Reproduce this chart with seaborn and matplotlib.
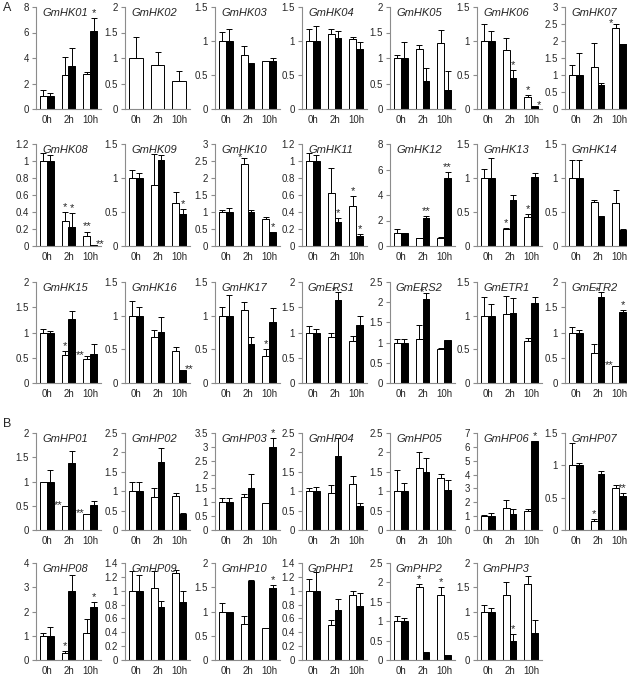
import matplotlib
matplotlib.use("Agg")
import matplotlib.pyplot as plt
import seaborn as sns
import numpy as np
import pandas as pd

# --- data (white = control, black = treatment) ---
TIMES = ["0h", "2h", "10h"]

GENES = [
    "GmHK01", "GmHK02", "GmHK03", "GmHK04", "GmHK05", "GmHK06", "GmHK07",
    "GmHK08", "GmHK09", "GmHK10", "GmHK11", "GmHK12", "GmHK13", "GmHK14",
    "GmHK15", "GmHK16", "GmHK17", "GmERS1", "GmERS2", "GmETR1", "GmETR2",
    "GmHP01", "GmHP02", "GmHP03", "GmHP04", "GmHP05", "GmHP06", "GmHP07",
    "GmHP08", "GmHP09", "GmHP10", "GmPHP1", "GmPHP2", "GmPHP3",
]

WHITE = [
    [1.0, 2.65, 2.75], [1.0, 0.87, 0.55], [1.0, 0.80, 0.70], [1.0, 1.10, 1.03],
    [1.0, 1.18, 1.30], [1.0, 0.87, 0.17], [1.0, 1.25, 2.38],
    [1.0, 0.30, 0.12], [1.0, 0.90, 0.63], [1.0, 2.40, 0.78], [1.0, 0.62, 0.47],
    [1.0, 0.60, 0.60], [1.0, 0.25, 0.42], [1.0, 0.65, 0.63],
    [1.0, 0.56, 0.47], [1.0, 0.68, 0.48], [1.0, 1.08, 0.40], [1.0, 0.92, 0.83],
    [1.0, 1.08, 0.85], [1.0, 1.02, 0.62], [1.0, 0.60, 0.33],
    [1.0, 0.50, 0.33], [1.0, 0.85, 0.88], [1.0, 1.20, 0.98], [1.0, 0.95, 1.18],
    [1.0, 1.60, 1.33], [1.0, 1.60, 1.35], [1.0, 0.14, 0.65],
    [1.0, 0.27, 1.10], [1.0, 1.04, 1.25], [1.0, 0.75, 0.65], [1.0, 0.50, 0.94],
    [1.0, 1.88, 1.68], [1.0, 1.35, 1.57],
]
WHITE_ERR = [
    [0.50, 1.45, 0.15], [0.42, 0.25, 0.20], [0.13, 0.12, 0.0], [0.17, 0.07, 0.03],
    [0.05, 0.08, 0.25], [0.25, 0.17, 0.04], [0.30, 0.70, 0.13],
    [0.10, 0.10, 0.05], [0.12, 0.45, 0.16], [0.05, 0.20, 0.08], [0.10, 0.30, 0.12],
    [0.30, 0.05, 0.12], [0.13, 0.02, 0.05], [0.27, 0.03, 0.20],
    [0.06, 0.08, 0.06], [0.22, 0.10, 0.06], [0.13, 0.12, 0.10], [0.13, 0.08, 0.10],
    [0.08, 0.35, 0.02], [0.27, 0.27, 0.05], [0.10, 0.18, 0.01],
    [0.0, 0.0, 0.0], [0.25, 0.22, 0.08], [0.15, 0.10, 0.0], [0.07, 0.20, 0.20],
    [0.55, 0.40, 0.12], [0.10, 0.60, 0.20], [0.35, 0.03, 0.04],
    [0.12, 0.10, 0.60], [0.28, 0.25, 0.05], [0.17, 0.15, 0.0], [0.17, 0.08, 0.06],
    [0.13, 0.08, 0.20], [0.13, 0.25, 0.17],
]
BLACK = [
    [1.0, 3.40, 6.10], [np.nan, np.nan, np.nan], [1.0, 0.68, 0.70], [1.0, 1.05, 0.88],
    [1.0, 0.55, 0.38], [1.0, 0.45, 0.05], [1.0, 0.70, 1.90],
    [1.0, 0.22, 0.01], [1.0, 1.27, 0.47], [1.0, 1.00, 0.42], [1.0, 0.28, 0.12],
    [1.0, 2.20, 5.30], [1.0, 0.68, 1.02], [1.0, 0.44, 0.24],
    [1.0, 1.27, 0.57], [1.0, 0.76, 0.20], [1.0, 0.58, 0.90], [1.0, 1.65, 1.15],
    [1.0, 2.07, 1.07], [1.0, 1.04, 1.19], [1.0, 1.70, 1.40],
    [1.0, 1.38, 0.52], [1.0, 1.75, 0.40], [1.0, 1.52, 3.00], [1.0, 1.90, 0.62],
    [1.0, 1.50, 1.02], [1.0, 1.15, 6.40], [1.0, 0.86, 0.53],
    [1.0, 2.85, 2.20], [1.0, 0.77, 0.84], [1.0, 1.62, 1.49], [1.0, 0.72, 0.78],
    [1.0, 0.20, 0.14], [1.0, 0.40, 0.55],
]
BLACK_ERR = [
    [0.25, 1.40, 1.00], [0.0, 0.0, 0.0], [0.18, 0.0, 0.05], [0.22, 0.10, 0.10],
    [0.32, 0.25, 0.37], [0.15, 0.12, 0.0], [0.65, 0.07, 0.02],
    [0.07, 0.17, 0.0], [0.07, 0.07, 0.07], [0.12, 0.07, 0.0], [0.07, 0.05, 0.02],
    [0.05, 0.15, 0.50], [0.30, 0.07, 0.05], [0.27, 0.0, 0.01],
    [0.02, 0.15, 0.20], [0.13, 0.22, 0.0], [0.30, 0.10, 0.22], [0.07, 0.15, 0.18],
    [0.08, 0.15, 0.0], [0.17, 0.22, 0.09], [0.05, 0.10, 0.05],
    [0.23, 0.25, 0.07], [0.25, 0.37, 0.03], [0.15, 0.50, 0.33], [0.10, 0.48, 0.08],
    [0.20, 0.35, 0.28], [0.25, 0.35, 0.0], [0.03, 0.06, 0.04],
    [0.35, 0.67, 0.18], [0.23, 0.08, 0.15], [0.0, 0.02, 0.06], [0.27, 0.16, 0.18],
    [0.07, 0.0, 0.0], [0.08, 0.14, 0.28],
]
YMAX = [8, 2, 1.5, 1.5, 2, 1.5, 3,
        1.2, 1.5, 3, 1.2, 8, 1.5, 1.5,
        2, 1.5, 1.5, 2, 2.5, 1.5, 2,
        2, 2.5, 3.5, 2.5, 2.5, 7, 1.5,
        4, 1.4, 2, 1.4, 2.5, 2]
YSTEP = [2, 0.5, 0.5, 0.5, 0.5, 0.5, 0.5,
         0.2, 0.5, 0.5, 0.2, 2, 0.5, 0.5,
         0.5, 0.5, 0.5, 0.5, 0.5, 0.5, 0.5,
         0.5, 0.5, 0.5, 0.5, 0.5, 1, 0.5,
         1, 0.2, 0.5, 0.2, 0.5, 0.5]
# significance marks: (time index, 0 = white / 1 = black, text, where)
# where: "u" above the error bar, "l" left of it, "r" right of it
STARS = [
    [(2, 1, "*", "u")], [], [], [], [],
    [(1, 1, "*", "u"), (2, 0, "*", "u"), (2, 1, "*", "r")], [(2, 0, "*", "l")],
    [(1, 0, "*", "u"), (1, 1, "*", "u"), (2, 0, "**", "u"), (2, 1, "**", "r")],
    [(2, 1, "*", "u")],
    [(1, 0, "*", "l"), (2, 1, "*", "u")],
    [(1, 1, "*", "u"), (2, 0, "*", "u"), (2, 1, "*", "u")],
    [(1, 1, "**", "u"), (2, 1, "**", "u")], [(1, 0, "*", "u"), (2, 0, "*", "u")], [],
    [(1, 0, "*", "u"), (2, 0, "**", "l")], [(2, 1, "**", "r")], [(2, 0, "*", "u")],
    [(1, 1, "*", "l")], [(1, 1, "*", "l")], [],
    [(1, 1, "*", "l"), (2, 0, "**", "l"), (2, 1, "*", "u")],
    [(1, 0, "**", "l"), (2, 0, "**", "l")], [], [(2, 1, "*", "u")], [], [],
    [(2, 1, "*", "u")], [(1, 0, "*", "u"), (2, 1, "**", "u")],
    [(1, 0, "*", "u"), (2, 1, "*", "u")], [], [(2, 1, "*", "u")], [],
    [(1, 0, "*", "u"), (2, 0, "*", "u")], [(1, 1, "*", "u")],
]

# --- layout (pixels in a 627x677 canvas) ---
W, H = 627, 677
COL_LEFT = [36, 125, 215, 302, 390, 477, 565]
ROW_SPAN = [(7, 109), (144, 246), (282, 383), (433, 530), (563, 660)]
AX_W = 65
GRAY = "#8c8c8c"

sns.set_style("white")
plt.rcParams["font.family"] = ["Liberation Sans", "DejaVu Sans"]

fig = plt.figure(figsize=(W / 100, H / 100), dpi=100)

for i, gene in enumerate(GENES):
    if i < 28:
        row, col = divmod(i, 7)
    else:
        row, col = 4, i - 28
    top, zero = ROW_SPAN[row]
    ax = fig.add_axes([COL_LEFT[col] / W, 1 - zero / H, AX_W / W, (zero - top) / H])

    df = pd.DataFrame({
        "time": TIMES * 2,
        "cond": ["ctrl"] * 3 + ["treat"] * 3,
        "value": WHITE[i] + BLACK[i],
    }).dropna()
    sns.barplot(data=df, x="time", y="value", hue="cond", order=TIMES,
                hue_order=["ctrl", "treat"], palette=["white", "black"],
                edgecolor="black", linewidth=0.7, width=0.64, errorbar=None,
                legend=False, ax=ax)

    tops = {}
    for p in ax.patches:
        h = p.get_height()
        if not np.isfinite(h):
            continue
        cx = p.get_x() + p.get_width() / 2
        t = int(round(cx))
        s = 0 if p.get_facecolor()[0] > 0.5 else 1
        e = WHITE_ERR[i][t] if s == 0 else BLACK_ERR[i][t]
        if e > 0:
            ax.errorbar(cx, h, yerr=[[0], [e]], fmt="none", ecolor="black",
                        elinewidth=0.7, capsize=2, capthick=0.7)
        tops[(t, s)] = (cx, p.get_width(), h + e)

    ymax, step = YMAX[i], YSTEP[i]
    for t, s, lab, where in STARS[i]:
        cx, bw, y = tops[(t, s)]
        if where == "u":
            ax.text(cx, y, lab, ha="center", va="bottom", fontsize=8)
        else:
            dx = -bw * 0.3 if where == "l" else bw * 0.3
            ax.annotate(lab, (cx + dx, y), xytext=(0, -3),
                        textcoords="offset points",
                        ha="right" if where == "l" else "left", va="bottom",
                        fontsize=8)

    ticks = np.round(np.arange(0, ymax + step / 2, step), 2)
    ax.set_ylim(0, ymax)
    ax.set_yticks(ticks)
    ax.set_yticklabels([f"{v:g}" for v in ticks])
    ax.set_xlim(-0.5, 2.5)
    ax.set_xticks([0, 1, 2])
    ax.set_xticklabels(TIMES)
    ax.set_xticks([-0.5, 0.5, 1.5, 2.5], minor=True)
    ax.tick_params(axis="x", which="major", length=0, labelsize=7, pad=4)
    ax.tick_params(axis="x", which="minor", length=3, width=0.8, color=GRAY,
                   direction="out")
    ax.tick_params(axis="y", length=3, width=0.8, color=GRAY, labelsize=7,
                   direction="out", pad=2, left=True)
    ax.set_xlabel("")
    ax.set_ylabel("")
    for side in ["top", "right"]:
        ax.spines[side].set_visible(False)
    for side in ["left", "bottom"]:
        ax.spines[side].set_color(GRAY)
        ax.spines[side].set_linewidth(0.8)
    ax.text(0.45, 0.99, gene, transform=ax.transAxes, ha="center", va="top",
            style="italic", fontsize=8)

fig.text(3 / W, 1 - 2 / H, "A", ha="left", va="top", fontsize=9)
fig.text(3 / W, 1 - 418 / H, "B", ha="left", va="top", fontsize=9)

fig.savefig("out.png", dpi=100)
